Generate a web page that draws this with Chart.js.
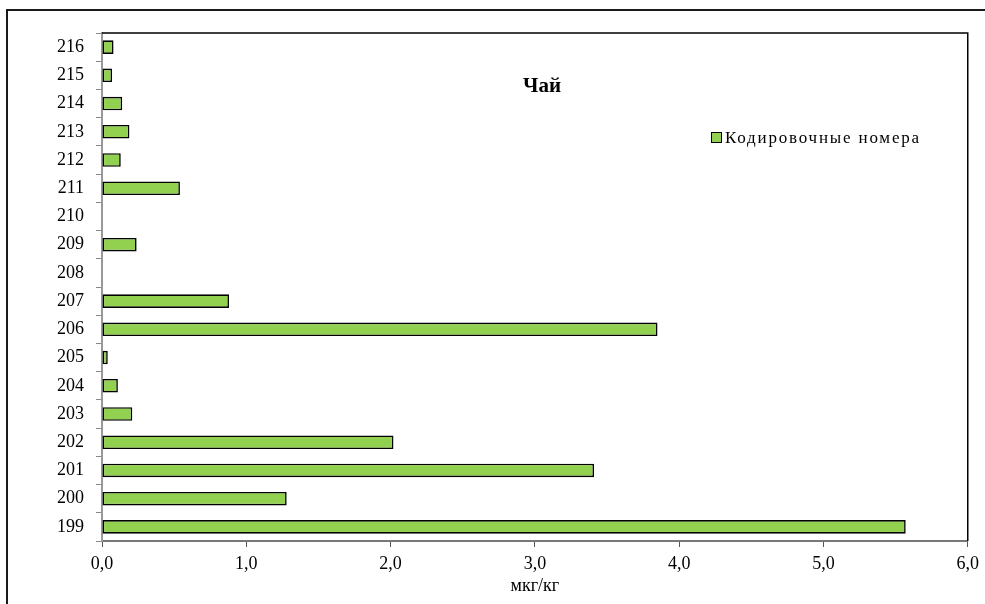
<!DOCTYPE html>
<html>
<head>
<meta charset="utf-8">
<script src="https://cdn.jsdelivr.net/npm/chart.js@4.4.1/dist/chart.umd.min.js"></script>
<style>
  html, body { margin: 0; padding: 0; background: #fff; overflow: hidden; }
  #wrap { position: relative; width: 985px; height: 604px; }
  #frame { position: absolute; left: 6px; top: 9px; width: 1000px; height: 700px;
           border-left: 2px solid #1a1a1a; border-top: 2px solid #1a1a1a; }
  canvas { position: absolute; left: 0; top: 0; }
</style>
</head>
<body>
<div id="wrap">
  <div id="frame"></div>
  <canvas id="chart" width="985" height="604"></canvas>
</div>
<script>
// данные
const codes = ["199", "200", "201", "202", "203", "204", "205", "206", "207",
               "208", "209", "210", "211", "212", "213", "214", "215", "216"];
const values = [5.57, 1.28, 3.41, 2.02, 0.21, 0.11, 0.04, 3.85, 0.88,
                0, 0.24, 0, 0.54, 0.13, 0.19, 0.14, 0.07, 0.08];
const xTicks = [0, 1, 2, 3, 4, 5, 6];

const chartTitle = "Чай";
const seriesLabel = "Кодировочные номера";
const axisTitle = "мкг/кг";

const FONT = "'Liberation Serif', 'Times New Roman', serif";

// рамка области построения + заголовок + легенда внутри
const overlay = {
  id: "overlay",
  afterDraw(chart) {
    const { ctx, chartArea: a } = chart;
    ctx.save();
    ctx.strokeStyle = "#000";
    ctx.lineWidth = 1.5;
    ctx.beginPath();
    ctx.moveTo(a.left, a.top);
    ctx.lineTo(a.right, a.top);
    ctx.lineTo(a.right, a.bottom);
    ctx.stroke();

    ctx.fillStyle = "#000";
    ctx.font = "bold 21px " + FONT;
    ctx.textAlign = "center";
    ctx.textBaseline = "alphabetic";
    ctx.fillText(chartTitle, 542, 92);

    ctx.fillStyle = "#92D050";
    ctx.fillRect(711, 132, 10, 10);
    ctx.strokeStyle = "#000";
    ctx.lineWidth = 1;
    ctx.strokeRect(711.5, 132.5, 10, 10);

    ctx.fillStyle = "#000";
    ctx.font = "17px " + FONT;
    ctx.textAlign = "left";
    ctx.letterSpacing = "1.8px";
    ctx.fillText(seriesLabel, 725, 143);
    ctx.restore();
  },
};

new Chart(document.getElementById("chart"), {
  type: "bar",
  data: {
    labels: codes,
    datasets: [{
      label: seriesLabel,
      data: values,
      backgroundColor: "#92D050",
      borderColor: "#000",
      borderWidth: 1.6,
      borderSkipped: false,
      barPercentage: 0.48,
      categoryPercentage: 1,
    }],
  },
  options: {
    indexAxis: "y",
    responsive: false,
    animation: false,
    layout: { padding: { left: 0, top: 33, right: 14, bottom: 0 } },
    plugins: {
      legend: { display: false },
      tooltip: { enabled: false },
    },
    scales: {
      x: {
        min: 0,
        max: 6,
        afterBuildTicks: (scale) => { scale.ticks = xTicks.map((v) => ({ value: v })); },
        afterFit: (scale) => { scale.height = 63; },
        grid: { drawOnChartArea: false, tickLength: 6, color: "#555", lineWidth: 1 },
        border: { color: "#777", width: 2 },
        ticks: {
          color: "#000",
          padding: 6,
          font: { family: FONT, size: 18 },
          callback: (v) => Number(v).toFixed(1).replace(".", ","),
        },
        title: {
          display: true,
          text: axisTitle,
          color: "#000",
          font: { family: FONT, size: 18 },
          padding: { top: 0, bottom: 7 },
        },
      },
      y: {
        reverse: true,
        afterFit: (scale) => { scale.width = 102; },
        grid: { drawOnChartArea: false, offset: true, tickLength: 6, color: "#888", lineWidth: 1 },
        border: { color: "#999", width: 2 },
        ticks: {
          color: "#000",
          padding: 12,
          font: { family: FONT, size: 18 },
        },
      },
    },
  },
  plugins: [overlay],
});
</script>
</body>
</html>
